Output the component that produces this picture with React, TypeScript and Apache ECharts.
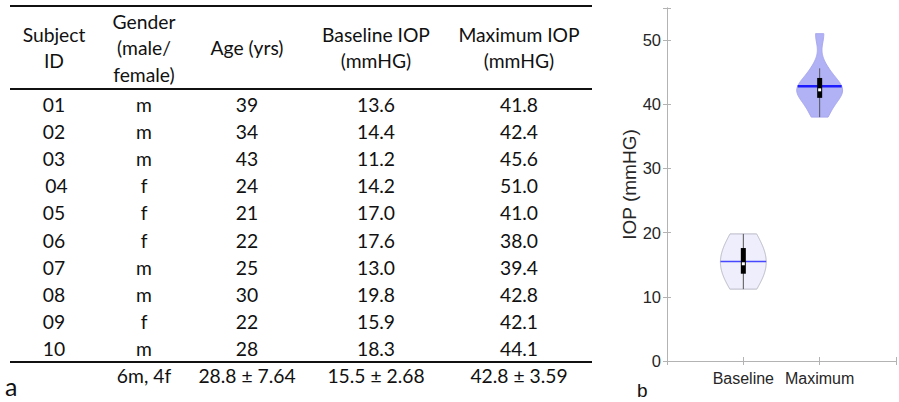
import React, { useEffect, useRef } from 'react';
import * as echarts from 'echarts';

// ---------- table data ----------
const subjectIds = ['01', '02', '03', ' 04', '05', '06', '07', '08', '09', '10'];
const genders = ['m', 'm', 'm', 'f', 'f', 'f', 'm', 'm', 'f', 'm'];
const ages = [39, 34, 43, 24, 21, 22, 25, 30, 22, 28];
const baselineIOP = [13.6, 14.4, 11.2, 14.2, 17.0, 17.6, 13.0, 19.8, 15.9, 18.3];
const maximumIOP = [41.8, 42.4, 45.6, 51.0, 41.0, 38.0, 39.4, 42.8, 42.1, 44.1];
const summaryRow = ['', '6m, 4f', '28.8 ± 7.64', '15.5 ± 2.68', '42.8 ± 3.59'];
const headerLines = [
  ['Subject', 'ID'],
  ['Gender', '(male/', 'female)'],
  ['Age (yrs)'],
  ['Baseline IOP', '(mmHG)'],
  ['Maximum IOP', '(mmHG)'],
];

// ---------- violin plot ----------
const violinCategories = ['Baseline', 'Maximum'];
const violinSamples = [baselineIOP, maximumIOP];
const violinBandwidths = [3.0, 1.65];

const TABLE_FONT = 'Lato, "Open Sans", sans-serif';
const PLOT_FONT = '"Liberation Sans", Arial, sans-serif';

function quantile(sorted: number[], p: number) {
  const n = sorted.length;
  const pos = p * n + 0.5;
  if (pos <= 1) return sorted[0];
  if (pos >= n) return sorted[n - 1];
  const lo = Math.floor(pos);
  const f = pos - lo;
  return sorted[lo - 1] + f * (sorted[lo] - sorted[lo - 1]);
}

function violinStats(values: number[], bw: number) {
  const s = [...values].sort((a, b) => a - b);
  const min = s[0];
  const max = s[s.length - 1];
  const kde = (y: number) =>
    values.reduce((acc, v) => acc + Math.exp(-0.5 * ((y - v) / bw) ** 2), 0);
  const ys: number[] = [];
  const ds: number[] = [];
  const N = 80;
  for (let k = 0; k <= N; k++) {
    const y = min + ((max - min) * k) / N;
    ys.push(y);
    ds.push(kde(y));
  }
  const maxD = Math.max(...ds);
  const q1 = quantile(s, 0.25);
  const q3 = quantile(s, 0.75);
  const med = quantile(s, 0.5);
  const iqr = q3 - q1;
  const whLo = s.find((v) => v >= q1 - 1.5 * iqr) as number;
  const whHi = [...s].reverse().find((v) => v <= q3 + 1.5 * iqr) as number;
  const mean = values.reduce((a, b) => a + b, 0) / values.length;
  return { ys, ds, maxD, q1, q3, med, whLo, whHi, mean, meanD: kde(mean) };
}

const violinFill = ['#eeeefc', '#b1b1f6'];
const violinEdge = ['#b9b9c6', '#a9a9ef'];
const meanColor = ['#4747ff', '#1c1cff'];
const meanWidth = [1.5, 2.5];

export default function App() {
  const ref = useRef<HTMLDivElement>(null);
  useEffect(() => {
    if (!ref.current) return;
    const chart = echarts.init(ref.current, null, { renderer: 'svg' });
    const stats = violinSamples.map((v, i) => violinStats(v, violinBandwidths[i]));

    // table graphics
    const colX = [54, 144, 247, 376, 519];
    const rowY0 = 104;
    const rowStep = 27.2;
    const graphics: any[] = [];
    const txt = (text: string, x: number, y: number, size = 19.3, family = TABLE_FONT) => ({
      type: 'text',
      x,
      y,
      silent: true,
      style: {
        text,
        fontSize: size,
        fontFamily: family,
        fill: '#111',
        textAlign: 'center',
        textVerticalAlign: 'middle',
      },
    });
    const hline = (y: number) => ({
      type: 'line',
      silent: true,
      shape: { x1: 10, y1: y, x2: 592, y2: y },
      style: { stroke: '#111', lineWidth: 2 },
    });
    graphics.push(hline(6), hline(89), hline(362));
    headerLines.forEach((lines, c) => {
      const L = 26.5;
      lines.forEach((t, k) => {
        graphics.push(txt(t, colX[c], 47.5 + (k - (lines.length - 1) / 2) * L));
      });
    });
    subjectIds.forEach((id, r) => {
      const y = rowY0 + r * rowStep;
      const cells = [
        id,
        genders[r],
        String(ages[r]),
        baselineIOP[r].toFixed(1),
        maximumIOP[r].toFixed(1),
      ];
      cells.forEach((t, c) => graphics.push(txt(t, colX[c], y)));
    });
    summaryRow.forEach((t, c) => {
      if (t) graphics.push(txt(t, colX[c], 375));
    });
    graphics.push({
      type: 'text',
      x: 5,
      y: 386,
      silent: true,
      style: { text: 'a', fontSize: 25, fontFamily: TABLE_FONT, fill: '#111', textAlign: 'left', textVerticalAlign: 'middle' },
    });
    graphics.push({
      type: 'text',
      x: 637,
      y: 390,
      silent: true,
      style: { text: 'b', fontSize: 19, fontFamily: PLOT_FONT, fill: '#111', textAlign: 'left', textVerticalAlign: 'middle' },
    });

    const axisColor = '#b3b3b3';
    const labelColor = '#262626';

    chart.setOption({
      animation: false,
      backgroundColor: '#fff',
      grid: { left: 667, top: 8, width: 236, height: 353, containLabel: false },
      xAxis: [
        {
          type: 'value',
          min: 0,
          max: 3,
          interval: 1,
          position: 'bottom',
          axisLine: { show: true, lineStyle: { color: axisColor, width: 1 } },
          axisTick: { show: true, inside: true, length: 4, lineStyle: { color: axisColor } },
          axisLabel: {
            formatter: (v: number) => violinCategories[v - 1] ?? '',
            color: labelColor,
            fontSize: 16,
            fontFamily: PLOT_FONT,
            margin: 9,
          },
          splitLine: { show: false },
        },
        {
          type: 'value',
          min: 0,
          max: 3,
          interval: 1,
          position: 'top',
          axisLine: { show: true, lineStyle: { color: axisColor, width: 1 } },
          axisTick: { show: true, inside: true, length: 4, lineStyle: { color: axisColor } },
          axisLabel: { show: false },
          splitLine: { show: false },
        },
      ],
      yAxis: [
        {
          type: 'value',
          min: 0,
          max: 55,
          interval: 10,
          position: 'left',
          name: 'IOP (mmHG)',
          nameLocation: 'middle',
          nameRotate: 90,
          nameGap: 20,
          nameTextStyle: { color: labelColor, fontSize: 19, fontFamily: PLOT_FONT },
          axisLine: { show: true, lineStyle: { color: axisColor, width: 1 } },
          axisTick: { show: true, inside: true, length: 4, lineStyle: { color: axisColor } },
          axisLabel: {
            formatter: (v: number) => (v <= 50 ? String(v) : ''),
            color: labelColor,
            fontSize: 16.5,
            fontFamily: PLOT_FONT,
            margin: 6,
          },
          splitLine: { show: false },
        },
        {
          type: 'value',
          min: 0,
          max: 55,
          interval: 10,
          position: 'right',
          axisLine: { show: true, lineStyle: { color: axisColor, width: 1 } },
          axisTick: { show: true, inside: true, length: 4, lineStyle: { color: axisColor } },
          axisLabel: { show: false },
          splitLine: { show: false },
        },
      ],
      series: [
        {
          type: 'custom',
          xAxisIndex: 0,
          yAxisIndex: 0,
          clip: false,
          data: violinCategories.map((_, i) => [i + 1, stats[i].mean]),
          renderItem: (params: any, api: any) => {
            const i = params.dataIndex;
            const s = stats[i];
            const xc = i + 1;
            const half = api.size([0.3, 0])[0];
            const right: number[][] = [];
            const left: number[][] = [];
            s.ys.forEach((y, k) => {
              const p = api.coord([xc, y]);
              const w = (s.ds[k] / s.maxD) * half;
              right.push([p[0] + w, p[1]]);
              left.push([p[0] - w, p[1]]);
            });
            const points = right.concat(left.reverse());
            const c = api.coord([xc, 0]);
            const meanP = api.coord([xc, s.mean]);
            const mw = (s.meanD / s.maxD) * half;
            const pLo = api.coord([xc, s.whLo]);
            const pHi = api.coord([xc, s.whHi]);
            const pQ1 = api.coord([xc, s.q1]);
            const pQ3 = api.coord([xc, s.q3]);
            const pMed = api.coord([xc, s.med]);
            const boxW = 5;
            return {
              type: 'group',
              children: [
                {
                  type: 'polygon',
                  shape: { points },
                  style: { fill: violinFill[i], stroke: violinEdge[i], lineWidth: 1 },
                },
                {
                  type: 'line',
                  shape: { x1: c[0] - mw, y1: meanP[1], x2: c[0] + mw, y2: meanP[1] },
                  style: { stroke: meanColor[i], lineWidth: meanWidth[i] },
                },
                {
                  type: 'line',
                  shape: { x1: c[0], y1: pLo[1], x2: c[0], y2: pHi[1] },
                  style: { stroke: '#555', lineWidth: 1 },
                },
                {
                  type: 'rect',
                  shape: { x: c[0] - boxW / 2, y: pQ3[1], width: boxW, height: pQ1[1] - pQ3[1] },
                  style: { fill: '#000' },
                },
                {
                  type: 'rect',
                  shape: { x: c[0] - 1.5, y: pMed[1] - 1.5, width: 3, height: 3 },
                  style: { fill: '#fff' },
                },
              ],
            };
          },
        },
      ],
      graphic: graphics,
    });
    return () => chart.dispose();
  }, []);
  return (
    <div
      ref={ref}
      style={{ position: 'fixed', left: 0, top: 0, width: 899, height: 402, background: '#fff' }}
    />
  );
}
